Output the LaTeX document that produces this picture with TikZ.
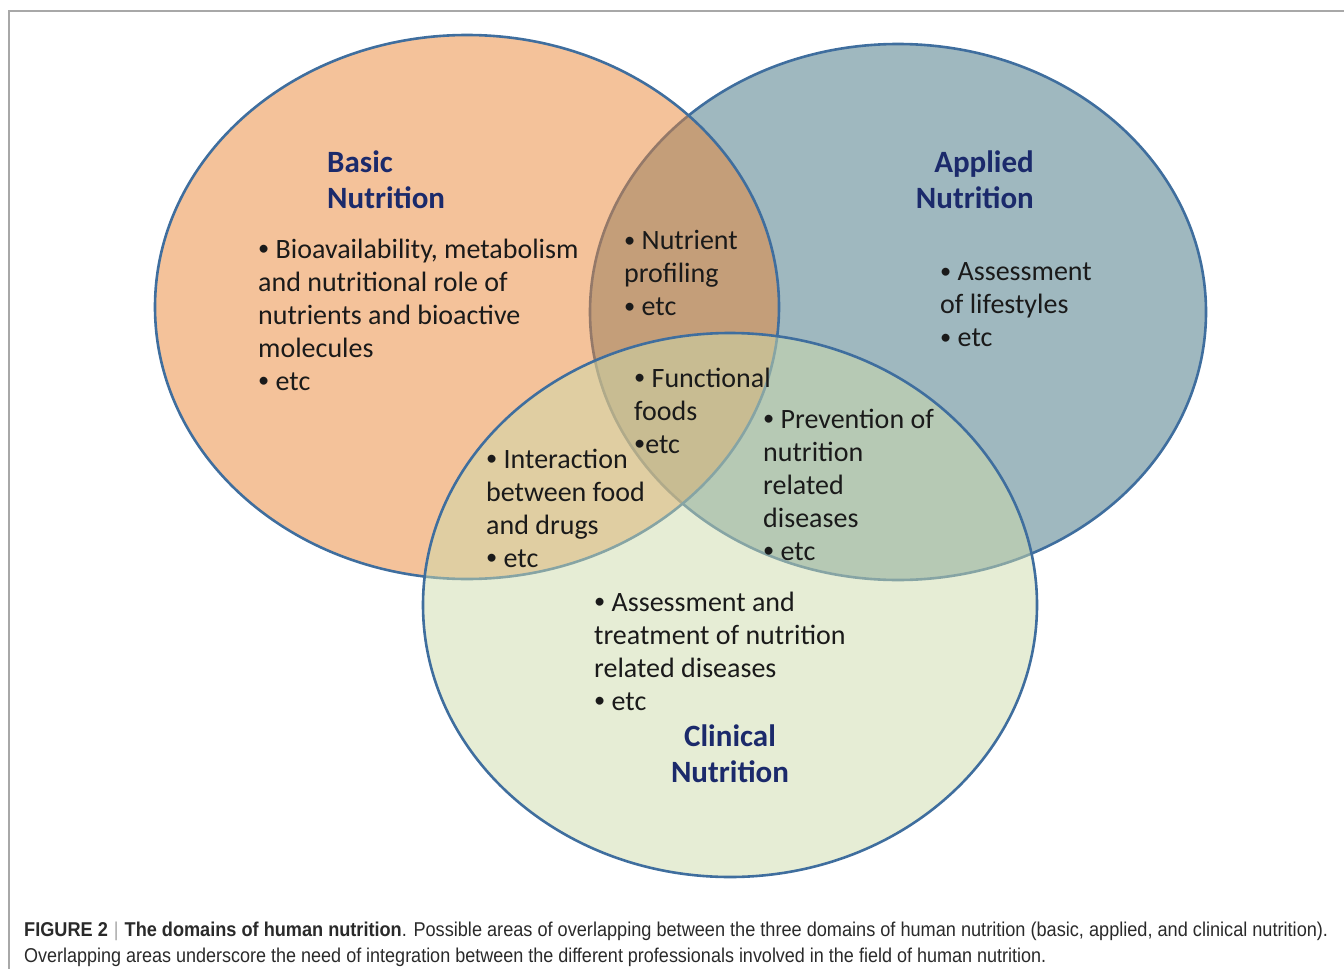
\documentclass[tikz,border=0pt]{standalone}
\usepackage{fontspec}
\usepackage{graphicx}
\setmainfont{Carlito}
\newfontfamily\capfont{Liberation Sans}
\newcommand{\bul}{\raisebox{0.08em}{\scalebox{0.8}{\textbullet}}}
\definecolor{bluefill}{HTML}{9FB8BF}
\definecolor{orangefill}{HTML}{E98535}
\definecolor{greenfill}{HTML}{CDDBAB}
\definecolor{edge}{HTML}{3F6E9E}
\definecolor{titlecol}{HTML}{1B2A6B}
\definecolor{bodycol}{HTML}{1A1A1A}
\definecolor{capcol}{HTML}{2A2A2A}
\definecolor{framecol}{HTML}{A8A8A8}
\begin{document}
\begin{tikzpicture}[x=1pt,y=-1pt,
  body/.style={anchor=north west, inner sep=0pt, align=left, text=bodycol,
    font=\fontsize{28}{33}\selectfont},
  ttl/.style={inner sep=0pt, text=titlecol,
    font=\fontsize{31}{36}\selectfont\bfseries},
  captext/.style={anchor=base west, inner sep=0pt, text=capcol,
    font=\capfont\fontsize{20}{26}\selectfont},
  ring/.style={draw=edge, line width=2.6pt}]
\useasboundingbox (0,0) rectangle (1344,969);
% frame
\draw[framecol, line width=1.5pt] (9,969) -- (9,11) -- (1344,11);
% circles
\fill[bluefill] (898,312) ellipse [x radius=308pt, y radius=268pt];
\draw[ring] (898,312) ellipse [x radius=308pt, y radius=268pt];
\fill[orangefill, fill opacity=0.5] (467,307) ellipse [x radius=312pt, y radius=272pt];
\draw[ring] (467,307) ellipse [x radius=312pt, y radius=272pt];
\fill[greenfill, fill opacity=0.5] (730,605) ellipse [x radius=307pt, y radius=272pt];
\draw[ring] (730,605) ellipse [x radius=307pt, y radius=272pt];
% titles
\node[ttl, anchor=north west, align=left] (tbasic) at (327,150.5) {Basic\\Nutrition};
\node[ttl, anchor=north east, align=right] (tapplied) at (1034,150.5) {Applied\\Nutrition};
\node[ttl, anchor=north, align=center] (tclinical) at (730,724.5) {Clinical\\Nutrition};
% body texts
\node[body] (basic) at (258,238.5) {\bul{} Bioavailability, metabolism\\and nutritional role of\\nutrients and bioactive\\molecules\\\bul{} etc};
\node[body] (nutrient) at (624,230.5) {\bul{} Nutrient\\profiling\\\bul{} etc};
\node[body] (applied) at (940,262.5) {\bul{} Assessment\\of lifestyles\\\bul{} etc};
\node[body] (functional) at (634,367.5) {\bul{} Functional\\foods\\\bul etc};
\node[body] (prevention) at (763,408.5) {\bul{} Prevention of\\nutrition\\related\\diseases\\\bul{} etc};
\node[body] (interaction) at (486,448.5) {\bul{} Interaction\\between food\\and drugs\\\bul{} etc};
\node[body] (clinical) at (594,591.5) {\bul{} Assessment and\\treatment of nutrition\\related diseases\\\bul{} etc};
% caption
\node[captext] (cap1) at (24,936) {\resizebox{1304pt}{\height}{\textbf{FIGURE 2}\,\,{\color{framecol}|}\,\,\textbf{The domains of human nutrition}. Possible areas of overlapping between the three domains of human nutrition (basic, applied, and clinical nutrition).}};
\node[captext] (cap2) at (24,962) {\resizebox{1022pt}{\height}{Overlapping areas underscore the need of integration between the different professionals involved in the field of human nutrition.}};
\end{tikzpicture}
\end{document}
